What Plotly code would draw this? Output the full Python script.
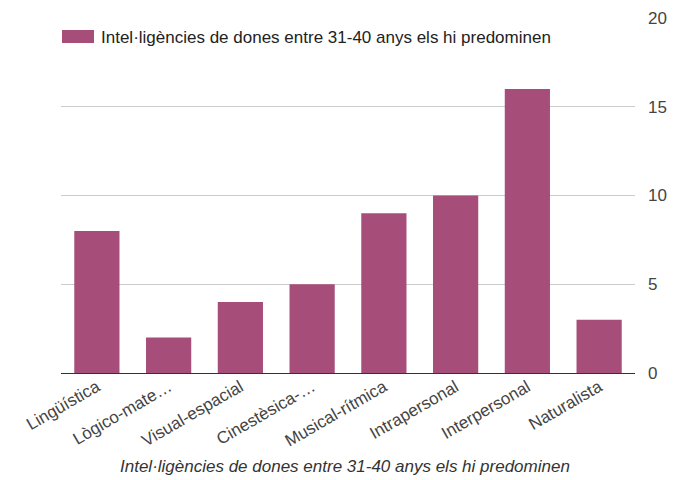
import plotly.graph_objects as go

categories = ["Lingüística", "Lògico-mate…", "Visual-espacial", "Cinestèsica-…",
              "Musical-rítmica", "Intrapersonal", "Interpersonal", "Naturalista"]
values = [8, 2, 4, 5, 9, 10, 16, 3]
series_name = "Intel·ligències de dones entre 31-40 anys els hi predominen"
y_ticks = [0, 5, 10, 15, 20]

BAR = "#a64d79"
FONT = "Liberation Sans, Arial, sans-serif"

fig = go.Figure()
fig.add_trace(go.Bar(x=categories, y=values, name=series_name,
                     marker=dict(color=BAR, line=dict(width=0)), showlegend=False))

OFF = 8  # page body margin
W, H = 690 - OFF, 480 - OFF
# plot area in reference pixel coordinates
X0, X1, Y0, Y1 = 61, 635, 18, 373
L, R, T, B = X0 - OFF, W - (X1 - OFF), Y0 - OFF, H - (Y1 - OFF)
pw, ph = X1 - X0, Y1 - Y0

def px(x):
    return (x - X0) / pw

def py(y):
    return (Y1 - y) / ph

fig.update_layout(
    width=W, height=H,
    margin=dict(l=L, r=R, t=T, b=B),
    plot_bgcolor="white", paper_bgcolor="white",
    font=dict(family=FONT, color="#222"),
    bargap=0.37,
    xaxis=dict(tickangle=-30, tickfont=dict(size=17, color="#444"),
               showgrid=False, ticks="", showline=False, automargin=False),
    yaxis=dict(side="right", range=[0, 20], tickvals=y_ticks,
               tickfont=dict(size=17, color="#444"),
               gridcolor="#cccccc", gridwidth=1, zeroline=True,
               zerolinecolor="#333333", zerolinewidth=1,
               ticks="", ticklabelstandoff=12, showline=False, automargin=False),
    shapes=[dict(type="rect", xref="paper", yref="paper",
                 x0=px(62), x1=px(94), y0=py(43), y1=py(30),
                 fillcolor=BAR, line=dict(width=0))],
    annotations=[
        dict(text=series_name, xref="paper", yref="paper", x=px(99), y=py(37),
             xanchor="left", yanchor="middle", showarrow=False,
             font=dict(size=17, color="#222")),
        dict(text="<i>" + series_name + "</i>", xref="paper", yref="paper",
             x=px(345), y=py(466), xanchor="center", yanchor="middle",
             showarrow=False, font=dict(size=17, color="#333")),
    ],
)

fig.write_html("out.html")
